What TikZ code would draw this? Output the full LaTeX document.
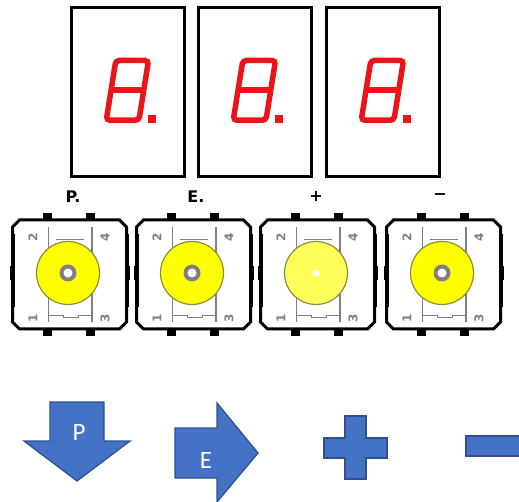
\documentclass[tikz,border=0pt]{standalone}
\usepackage{fontspec}
\usepackage{tikz}
\newfontfamily\keyfont{Carlito}
\newfontfamily\pinfont{DejaVu Sans}

\definecolor{segred}{RGB}{236,20,24}
\definecolor{pingray}{RGB}{128,128,128}
\definecolor{capyellow}{RGB}{255,255,0}
\definecolor{capyellowlt}{RGB}{255,255,90}
\definecolor{caprim}{RGB}{140,140,60}
\definecolor{keyblue}{RGB}{68,114,196}
\definecolor{keyedge}{RGB}{47,82,143}

\tikzset{
  seg/.style={draw=segred,line width=5.5,rounded corners=3.5},
  pin/.style={font=\pinfont\bfseries\fontsize{12}{12}\selectfont,text=pingray,inner sep=0,rotate=90},
  btnlabel/.style={font=\pinfont\bfseries\fontsize{16}{16}\selectfont,inner sep=0},
  keyshape/.style={fill=keyblue,draw=keyedge,line width=1.3,line join=miter},
  keytext/.style={font=\keyfont\fontsize{25}{25}\selectfont,text=white,inner sep=0}
}

\begin{document}
\begin{tikzpicture}[x=1pt,y=-1pt]
\useasboundingbox (0,0) rectangle (519,502);
\clip (0,0) rectangle (519,502);

% displays
\foreach \fx in {71,198,326} {
  \draw[line width=3] (\fx,8) rectangle ++(113,169);
  \begin{scope}[shift={(\fx+32,123)},xslant=0.16]
    \draw[seg] (2.8,-2.8) rectangle (35.5,-62.5);
    \draw[seg] (2.8,-33) -- (35.5,-33);
  \end{scope}
  \fill[segred] (\fx+77,115) rectangle ++(8,8);
}

% push buttons
\foreach \bx/\hole in {69.5/1,193.5/1,317.5/0,443.5/1} {
  \begin{scope}[shift={(\bx,274.5)}]
    % pins
    \fill (-26.5,-61.5) rectangle (-17.5,-54);
    \fill (16.5,-61.5) rectangle (25.5,-54);
    \fill (-26.5,61.5) rectangle (-17.5,54);
    \fill (16.5,61.5) rectangle (25.5,54);
    % body
    \draw[line width=3] (-50,-54.5) -- (50,-54.5) -- (57,-47.5) -- (57,47.5) -- (50,54.5)
      -- (-50,54.5) -- (-57,47.5) -- (-57,-47.5) -- cycle;
    \fill (-59,-40) rectangle (-55,33);
    \fill (55,-40) rectangle (59,33);
    \fill (-60,-8) rectangle (-57,6);
    \fill (57,-8) rectangle (60,6);
    % contacts
    \draw[pingray,line width=1.8] (-21,-47) -- (-21,48);
    \draw[pingray,line width=1.8] (22.5,-47) -- (22.5,48);
    \draw[pingray,line width=1.8] (-14,-35) -- (14,-35);
    \draw[pingray,line width=1.8] (-21,41) -- (-6,41) -- (-6,43) -- (9,43) -- (9,41) -- (22.5,41);
    \node[pin] at (-36.5,-37.5) {2};
    \node[pin] at (35.5,-37.5) {4};
    \node[pin] at (-36.5,44) {1};
    \node[pin] at (35.5,44) {3};
    % cap
    \ifnum\hole=1
      \filldraw[fill=capyellow,draw=caprim,line width=1.2] (-1.5,-1.5) circle (31.5);
      \fill[pingray] (-1.5,-1.5) circle (8.5);
      \fill[white] (-1.5,-1.5) circle (4.5);
    \else
      \filldraw[fill=capyellowlt,draw=caprim,line width=1.2] (-1.5,-1.5) circle (31.5);
      \fill[white] (-1.5,-1.5) circle (3.5);
    \fi
  \end{scope}
}

% button captions
\node[btnlabel] (lblP) at (73,197) {P.};
\node[btnlabel] (lblE) at (196,197) {E.};
\node[btnlabel] (lblPlus) at (316,196) {+};
\node[btnlabel] (lblMinus) at (440,197) {−};

% key symbols
\draw[keyshape] (50,402) -- (104,402) -- (104,441) -- (130,441) -- (77,481) -- (24,441)
  -- (50,441) -- cycle;
\node[keytext] (keyP) at (79,432) {P};
\draw[keyshape] (175,428) -- (217,428) -- (217,403) -- (258,453) -- (217,502) -- (217,478)
  -- (175,478) -- cycle;
\node[keytext] (keyE) at (206,460) {E};
\draw[keyshape] (345,416) -- (366,416) -- (366,438) -- (387,438) -- (387,458) -- (366,458)
  -- (366,479) -- (345,479) -- (345,458) -- (324,458) -- (324,438) -- (345,438) -- cycle;
\draw[keyshape] (466,436) rectangle (530,456);
\end{tikzpicture}
\end{document}
